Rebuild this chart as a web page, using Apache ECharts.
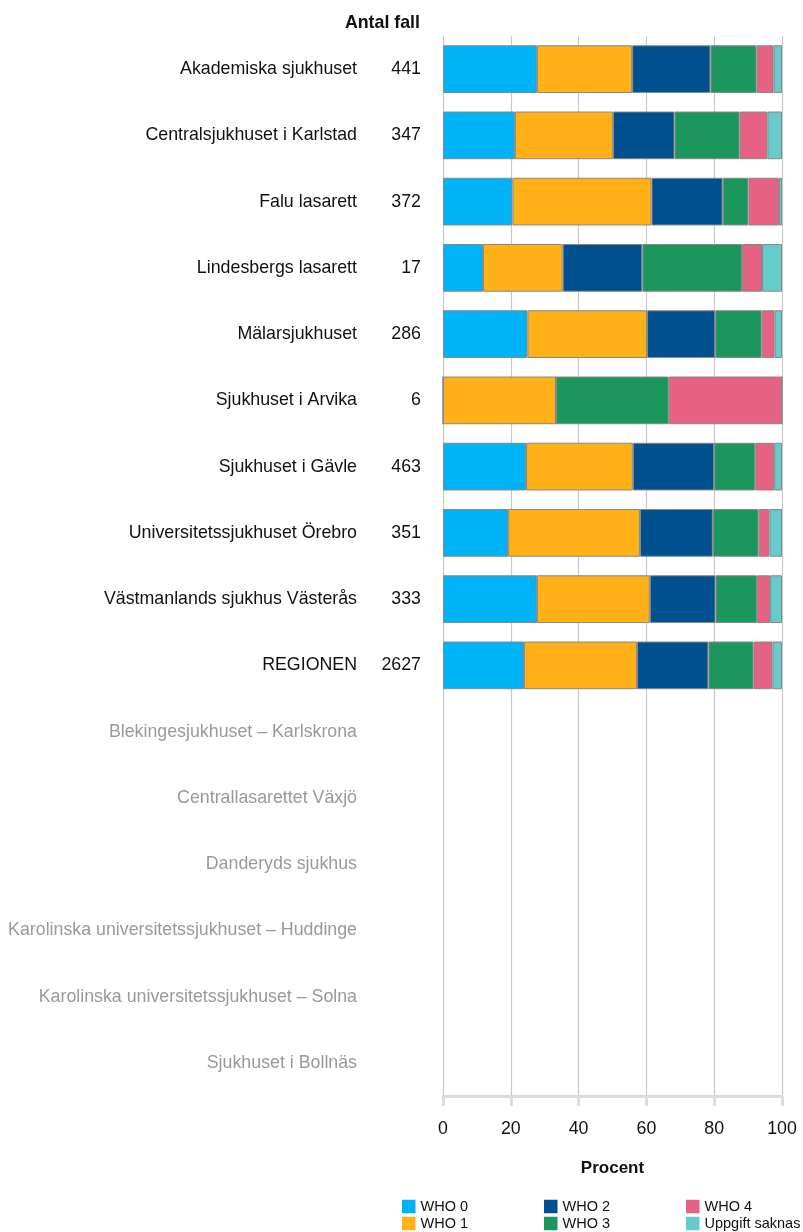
<!DOCTYPE html>
<html>
<head>
<meta charset="utf-8">
<script src="https://cdn.jsdelivr.net/npm/echarts@6/dist/echarts.min.js"></script>
<style>
html, body { margin: 0; padding: 0; background: #fff; }
#main { width: 803px; height: 1232px; }
</style>
</head>
<body>
<div id="main"></div>
<script>
let sjukhus = [
	'Akademiska sjukhuset',
	'Centralsjukhuset i Karlstad',
	'Falu lasarett',
	'Lindesbergs lasarett',
	'Mälarsjukhuset',
	'Sjukhuset i Arvika',
	'Sjukhuset i Gävle',
	'Universitetssjukhuset Örebro',
	'Västmanlands sjukhus Västerås',
	'REGIONEN',
	'Blekingesjukhuset – Karlskrona',
	'Centrallasarettet Växjö',
	'Danderyds sjukhus',
	'Karolinska universitetssjukhuset – Huddinge',
	'Karolinska universitetssjukhuset – Solna',
	'Sjukhuset i Bollnäs'
];
let antal = [441, 347, 372, 17, 286, 6, 463, 351, 333, 2627, null, null, null, null, null, null];

// procent per kategori
let who0 = [27.7, 21.2, 20.5, 11.8, 24.9, 0, 24.5, 19.2, 27.7, 23.9, '-', '-', '-', '-', '-', '-'];
let who1 = [28.1, 28.9, 41.0, 23.5, 35.3, 33.3, 31.5, 38.9, 33.3, 33.3, '-', '-', '-', '-', '-', '-'];
let who2 = [23.1, 18.2, 21.0, 23.5, 20.1, 0, 24.0, 21.5, 19.4, 21.1, '-', '-', '-', '-', '-', '-'];
let who3 = [13.6, 19.2, 7.6, 29.4, 13.7, 33.3, 12.1, 13.5, 12.2, 13.3, '-', '-', '-', '-', '-', '-'];
let who4 = [5.0, 8.2, 9.0, 5.9, 3.8, 33.4, 5.6, 3.2, 3.9, 5.6, '-', '-', '-', '-', '-', '-'];
let saknas = [2.5, 4.3, 0.9, 5.9, 2.2, 0, 2.3, 3.7, 3.5, 2.8, '-', '-', '-', '-', '-', '-'];

let serieNamn = ['WHO 0', 'WHO 1', 'WHO 2', 'WHO 3', 'WHO 4', 'Uppgift saknas'];
let serieData = [who0, who1, who2, who3, who4, saknas];
let farger = ['#00b3f6', '#ffb117', '#00508f', '#1b975d', '#e56285', '#66cbca'];

let chart = echarts.init(document.getElementById('main'));
let font = 'Liberation Sans, Arial, sans-serif';
let fs = 17.8;

function legendCol(left, data) {
	return {
		orient: 'vertical',
		left: left,
		top: 1199,
		padding: 0,
		itemWidth: 13.5,
		itemHeight: 13.5,
		itemGap: 2,
		icon: 'rect',
		selectedMode: false,
		itemStyle: { borderWidth: 0 },
		data: data,
		textStyle: { fontFamily: font, fontSize: 14.5, lineHeight: 14, color: '#111', padding: [0, 0, 0, 0] }
	};
}

let option = {
	animation: false,
	color: farger,
	textStyle: { fontFamily: font },
	grid: { left: 443, right: 21, top: 36, bottom: 136 },
	graphic: [{
		type: 'text',
		right: 803 - 420,
		top: 14,
		style: { text: 'Antal fall', font: 'bold ' + fs + 'px ' + font, fill: '#111' }
	}],
	legend: [
		legendCol(402, ['WHO 0', 'WHO 1']),
		legendCol(544, ['WHO 2', 'WHO 3']),
		legendCol(686, ['WHO 4', 'Uppgift saknas'])
	],
	xAxis: {
		type: 'value',
		min: 0,
		max: 100,
		interval: 20,
		name: 'Procent',
		nameLocation: 'middle',
		nameGap: 64,
		nameTextStyle: { fontFamily: font, fontSize: 17, fontWeight: 'bold', color: '#111' },
		axisLine: { show: true, lineStyle: { color: '#ddd', width: 3 } },
		axisTick: { show: true, length: 10, lineStyle: { color: '#ddd', width: 3 } },
		axisLabel: { margin: 24, fontSize: fs, color: '#111' },
		splitLine: { show: true, lineStyle: { color: '#c8c8c8', width: 1.2 } }
	},
	yAxis: {
		type: 'category',
		inverse: true,
		data: sjukhus,
		axisLine: { show: false },
		axisTick: { show: false },
		axisLabel: {
			margin: 22,
			formatter: function (v, i) {
				if (antal[i] == null) return '{g|' + v + '}{c|}';
				return '{n|' + v + '}{c|' + antal[i] + '}';
			},
			rich: {
				n: { fontFamily: font, fontSize: fs, color: '#111' },
				g: { fontFamily: font, fontSize: fs, color: '#999' },
				c: { fontFamily: font, fontSize: fs, color: '#111', width: 64, align: 'right' }
			}
		}
	},
	series: serieNamn.map(function (namn, k) {
		return {
			name: namn,
			type: 'bar',
			stack: 'andel',
			barWidth: '72%',
			data: serieData[k],
			itemStyle: { borderColor: '#888', borderWidth: 1 }
		};
	})
};

chart.setOption(option);
</script>
</body>
</html>
